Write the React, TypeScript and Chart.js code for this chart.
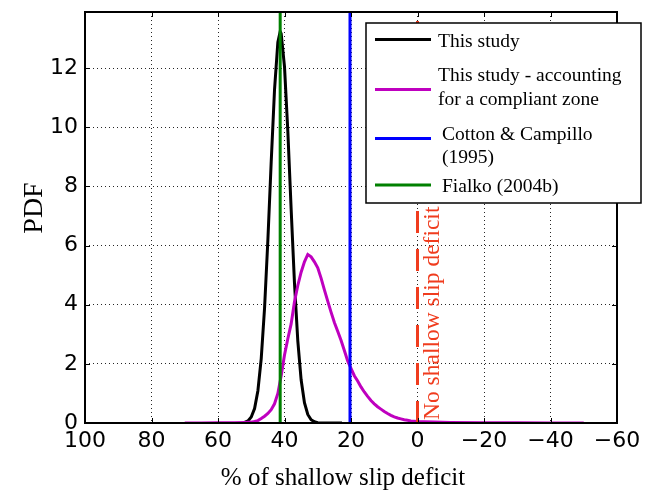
import React, { useEffect, useRef } from 'react';
import { Chart, registerables } from 'chart.js';

Chart.register(...registerables);

// ---- data ----
const xTickValues = [100, 80, 60, 40, 20, 0, -20, -40, -60];
const yTickValues = [0, 2, 4, 6, 8, 10, 12];
const X_MIN = -60;
const X_MAX = 100;
const Y_MIN = 0;
const Y_MAX = 13.9;

const studyX = [52, 51, 50, 49, 48, 47, 46, 45, 44, 43, 42, 41.3, 41, 40, 39, 38, 37, 36, 35, 34, 33, 32, 31, 30, 29, 28, 26, 24, 22.7];
const studyY = [0.02, 0.07, 0.2, 0.49, 1.09, 2.18, 3.88, 6.19, 8.83, 11.27, 12.88, 13.24, 13.17, 12.05, 9.87, 7.23, 4.74, 2.78, 1.46, 0.69, 0.29, 0.11, 0.04, 0.01, 0, 0, 0, 0, 0];

const compliantX = [70, 65, 60, 55, 52, 50, 49, 48, 47, 46, 45, 44, 43, 42, 41, 40, 39, 38, 37, 36, 35, 34, 33, 32, 31, 30, 29, 28, 27, 26, 25, 24, 23, 22, 21, 20, 19, 18, 17, 16, 15, 14, 13, 12, 11, 10, 9, 8, 7, 6, 5, 4, 3, 2, 1, 0, -2, -5, -10, -20, -30, -40, -50];
const compliantY = [0, 0, 0.005, 0.01, 0.02, 0.03, 0.05, 0.08, 0.15, 0.23, 0.32, 0.45, 0.65, 1.0, 1.6, 2.3, 2.85, 3.35, 4.1, 4.65, 5.1, 5.45, 5.7, 5.62, 5.45, 5.25, 4.9, 4.5, 4.12, 3.75, 3.4, 3.1, 2.8, 2.45, 2.1, 1.85, 1.6, 1.42, 1.22, 1.05, 0.9, 0.76, 0.65, 0.55, 0.47, 0.39, 0.32, 0.26, 0.21, 0.17, 0.14, 0.11, 0.09, 0.07, 0.06, 0.05, 0.04, 0.03, 0.02, 0.01, 0.005, 0.003, 0];

const cottonX = 20.3;
const fialkoX = 41.3;
const noDeficitX = 0;

const legendNames = [
  ['This study'],
  ['This study - accounting', 'for a compliant zone'],
  ['Cotton & Campillo', '(1995)'],
  ['Fialko (2004b)'],
];
const xAxisTitle = '% of shallow slip deficit';
const yAxisTitle = 'PDF';
const noDeficitText = 'No shallow slip deficit';

// ---- styles ----
const C_BLACK = '#000000';
const C_MAGENTA = '#bf00bf';
const C_BLUE = '#0000ff';
const C_GREEN = '#008000';
const C_RED = '#f03c1e';
const legendColors = [C_BLACK, C_MAGENTA, C_BLUE, C_GREEN];

const SERIF = '"Liberation Serif", "Times New Roman", serif';
const SANS = '"DejaVu Sans", sans-serif';

const toPoints = (xs: number[], ys: number[]) => xs.map((x, i) => ({ x, y: ys[i] }));
const vline = (x: number) => [{ x, y: Y_MIN }, { x, y: Y_MAX }];

const decorPlugin = {
  id: 'decor',
  afterDatasetsDraw(chart: any) {
    const { ctx, chartArea: a, scales } = chart;
    const xs = scales.x;
    const ys = scales.y;
    ctx.save();
    // inward ticks
    ctx.strokeStyle = '#000';
    ctx.lineWidth = 1;
    ctx.setLineDash([]);
    ctx.beginPath();
    for (const t of xTickValues) {
      const px = Math.round(xs.getPixelForValue(t)) + 0.5;
      ctx.moveTo(px, a.bottom);
      ctx.lineTo(px, a.bottom - 5);
      ctx.moveTo(px, a.top);
      ctx.lineTo(px, a.top + 5);
    }
    for (const t of yTickValues) {
      const py = Math.round(ys.getPixelForValue(t)) + 0.5;
      ctx.moveTo(a.left, py);
      ctx.lineTo(a.left + 5, py);
      ctx.moveTo(a.right, py);
      ctx.lineTo(a.right - 5, py);
    }
    ctx.stroke();
    // frame
    ctx.lineWidth = 2;
    ctx.strokeRect(a.left, a.top, a.right - a.left, a.bottom - a.top);

    // red annotation text
    ctx.fillStyle = C_RED;
    ctx.font = `23.5px ${SERIF}`;
    ctx.textAlign = 'left';
    ctx.textBaseline = 'alphabetic';
    ctx.save();
    ctx.translate(xs.getPixelForValue(noDeficitX) + 21, a.bottom - 3);
    ctx.rotate(-Math.PI / 2);
    ctx.fillText(noDeficitText, 0, 0);
    ctx.restore();

    // axis titles
    ctx.fillStyle = '#000';
    ctx.font = `25px ${SERIF}`;
    ctx.textAlign = 'center';
    ctx.fillText(xAxisTitle, 343, 485);
    ctx.save();
    ctx.font = `28px ${SERIF}`;
    ctx.translate(42, 208);
    ctx.rotate(-Math.PI / 2);
    ctx.fillText(yAxisTitle, 0, 0);
    ctx.restore();

    // legend
    const lx = 366, ly = 23, lw = 275, lh = 180;
    ctx.fillStyle = '#fff';
    ctx.fillRect(lx, ly, lw, lh);
    ctx.strokeStyle = '#000';
    ctx.lineWidth = 1.5;
    ctx.strokeRect(lx, ly, lw, lh);
    const lineYs = [39.5, 89.5, 138.5, 185];
    const textX = [438, 438, 442, 442];
    const baselines = [[46.5], [81, 104.5], [139.5, 162.5], [191.5]];
    ctx.font = `19.5px ${SERIF}`;
    ctx.textAlign = 'left';
    ctx.textBaseline = 'alphabetic';
    legendNames.forEach((lines, i) => {
      ctx.strokeStyle = legendColors[i];
      ctx.lineWidth = 3;
      ctx.beginPath();
      ctx.moveTo(375, lineYs[i]);
      ctx.lineTo(431, lineYs[i]);
      ctx.stroke();
      ctx.fillStyle = '#000';
      lines.forEach((t, j) => ctx.fillText(t, textX[i], baselines[i][j]));
    });
    ctx.restore();
  },
};

export default function App() {
  const ref = useRef<HTMLCanvasElement | null>(null);
  useEffect(() => {
    document.body.style.margin = '0';
    const canvas = ref.current;
    if (!canvas) return;
    const gridCommon = {
      color: 'rgba(0,0,0,0.85)',
      lineWidth: 1,
      drawTicks: false,
    };
    const chart = new Chart(canvas, {
      type: 'line',
      data: {
        datasets: [
          { label: 'This study', data: toPoints(studyX, studyY), borderColor: C_BLACK, borderWidth: 3, pointRadius: 0, order: 6 },
          { label: 'This study - accounting for a compliant zone', data: toPoints(compliantX, compliantY), borderColor: C_MAGENTA, borderWidth: 3, pointRadius: 0, order: 5 },
          { label: 'Cotton & Campillo (1995)', data: vline(cottonX), borderColor: C_BLUE, borderWidth: 3, pointRadius: 0, order: 4 },
          { label: 'No shallow slip deficit', data: vline(noDeficitX), borderColor: C_RED, borderWidth: 3, borderDash: [22, 16], pointRadius: 0, order: 3 },
          { label: 'Fialko (2004b)', data: vline(fialkoX), borderColor: C_GREEN, borderWidth: 3, pointRadius: 0, order: 2 },
        ],
      },
      options: {
        animation: false,
        responsive: false,
        devicePixelRatio: 1,
        parsing: false as any,
        layout: { padding: { top: 12, right: 42, left: 0, bottom: 0 } },
        plugins: { legend: { display: false }, tooltip: { enabled: false } },
        elements: { line: { tension: 0, borderCapStyle: 'butt' } },
        scales: {
          x: {
            type: 'linear',
            reverse: true,
            min: X_MIN,
            max: X_MAX,
            ticks: {
              stepSize: 20,
              padding: 5,
              color: '#000',
              font: { family: SANS, size: 22 },
              maxRotation: 0,
              callback: (v: any) => (v < 0 ? '\u2212' + Math.abs(v) : String(v)),
            },
            grid: gridCommon,
            border: { display: false, dash: [1, 3] },
            afterFit: (s: any) => { s.height = 67; s.paddingLeft = 0; s.paddingRight = 0; },
          },
          y: {
            type: 'linear',
            min: Y_MIN,
            max: Y_MAX,
            ticks: {
              stepSize: 2,
              includeBounds: false,
              padding: 7,
              color: '#000',
              font: { family: SANS, size: 22 },
            },
            grid: gridCommon,
            border: { display: false, dash: [1, 3] },
            afterFit: (s: any) => { s.width = 85; s.paddingTop = 0; s.paddingBottom = 0; },
          },
        },
      } as any,
      plugins: [decorPlugin],
    });
    return () => chart.destroy();
  }, []);
  return (
    <div style={{ position: 'fixed', left: 0, top: 0, width: 659, height: 490, background: '#fff' }}>
      <canvas ref={ref} width={659} height={490} />
    </div>
  );
}
